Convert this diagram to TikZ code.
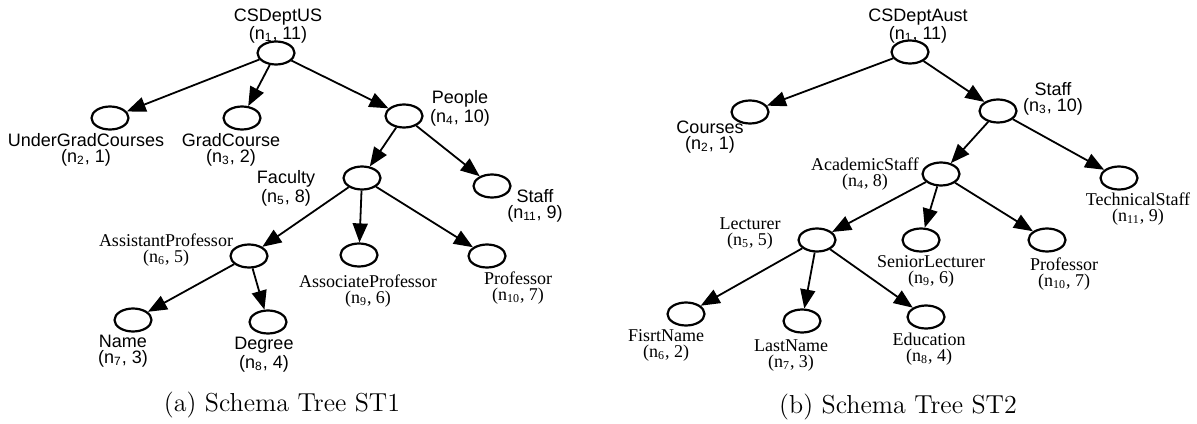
\documentclass[tikz,border=0pt]{standalone}
\usepackage{fontspec}
\newfontfamily\arialfont{Liberation Sans}
\newfontfamily\timesfont{Liberation Serif}
\usetikzlibrary{shapes.geometric,arrows.meta}

\begin{document}
\begin{tikzpicture}[x=0.5pt,y=-0.5pt,
  elem/.style={ellipse, draw, line width=1.1pt, minimum width=18.5pt, minimum height=11.5pt, inner sep=0pt},
  sanslbl/.style={font=\arialfont\fontsize{9}{8}\selectfont, align=center, inner sep=0pt},
  seriflbl/.style={font=\timesfont\fontsize{9}{8}\selectfont, align=center, inner sep=0pt},
  edge/.style={-{Triangle[length=9.5pt,width=7.5pt]}, line width=0.9pt},
  capt/.style={font=\fontsize{13}{15}\selectfont, inner sep=0pt}]
\useasboundingbox (0,0) rectangle (1197,423);

% schema tree ST1
\node[elem] (us1) at (276,53){};
\node[elem] (us2) at (110,118){};
\node[elem] (us3) at (242,118){};
\node[elem] (us4) at (404,116){};
\node[elem] (us5) at (362,178){};
\node[elem] (us11) at (492,186){};
\node[elem] (us6) at (249,256){};
\node[elem] (us9) at (359,255){};
\node[elem] (us10) at (487,256){};
\node[elem] (us7) at (133,320){};
\node[elem] (us8) at (268,322){};

\node[sanslbl] (lus1) at (278,26){CSDeptUS\\(n\textsubscript{1}, 11)};
\node[sanslbl] (lus2) at (86,150){UnderGradCourses\\(n\textsubscript{2}, 1)};
\node[sanslbl] (lus3) at (231,150){GradCourse\\(n\textsubscript{3}, 2)};
\node[sanslbl] (lus4) at (460,108){People\\(n\textsubscript{4}, 10)};
\node[sanslbl] (lus5) at (286,188){Faculty\\(n\textsubscript{5}, 8)};
\node[sanslbl] (lus11) at (535,206){Staff\\(n\textsubscript{11}, 9)};
\node[seriflbl] (lus6) at (166,250){AssistantProfessor\\(n\textsubscript{6}, 5)};
\node[seriflbl] (lus9) at (368,291){AssociateProfessor\\(n\textsubscript{9}, 6)};
\node[seriflbl] (lus10) at (518,288){Professor\\(n\textsubscript{10}, 7)};
\node[sanslbl] (lus7) at (123,351){Name\\(n\textsubscript{7}, 3)};
\node[sanslbl] (lus8) at (264,355){Degree\\(n\textsubscript{8}, 4)};

\draw[edge] (us1) -- (us2);
\draw[edge] (us1) -- (us3);
\draw[edge] (us1) -- (us4);
\draw[edge] (us4) -- (us5);
\draw[edge] (us4) -- (us11);
\draw[edge] (us5) -- (us6);
\draw[edge] (us5) -- (us9);
\draw[edge] (us5) -- (us10);
\draw[edge] (us6) -- (us7);
\draw[edge] (us6) -- (us8);

\node[capt] (cap1) at (282,405){(a) Schema Tree ST1};

% schema tree ST2
\node[elem] (au1) at (910,52){};
\node[elem] (au2) at (750,112){};
\node[elem] (au3) at (998,111){};
\node[elem] (au4) at (941,174){};
\node[elem] (au11) at (1119,178){};
\node[elem] (au5) at (817,240){};
\node[elem] (au9) at (921,240){};
\node[elem] (au10) at (1047,240){};
\node[elem] (au6) at (686,314){};
\node[elem] (au7) at (802,321){};
\node[elem] (au8) at (926,317){};

\node[sanslbl] (lau1) at (918,26){CSDeptAust\\(n\textsubscript{1}, 11)};
\node[sanslbl] (lau2) at (710,137){Courses\\(n\textsubscript{2}, 1)};
\node[sanslbl] (lau3) at (1053,99){Staff\\(n\textsubscript{3}, 10)};
\node[seriflbl] (lau4) at (865,174){AcademicStaff\\(n\textsubscript{4}, 8)};
\node[seriflbl] (lau11) at (1138,209){TechnicalStaff\\(n\textsubscript{11}, 9)};
\node[seriflbl] (lau5) at (750,234){Lecturer\\(n\textsubscript{5}, 5)};
\node[seriflbl] (lau9) at (931,271){SeniorLecturer\\(n\textsubscript{9}, 6)};
\node[seriflbl] (lau10) at (1064,274){Professor\\(n\textsubscript{10}, 7)};
\node[seriflbl] (lau6) at (666,345){FisrtName\\(n\textsubscript{6}, 2)};
\node[seriflbl] (lau7) at (791,356){LastName\\(n\textsubscript{7}, 3)};
\node[seriflbl] (lau8) at (929,349){Education\\(n\textsubscript{8}, 4)};

\draw[edge] (au1) -- (au2);
\draw[edge] (au1) -- (au3);
\draw[edge] (au3) -- (au4);
\draw[edge] (au3) -- (au11);
\draw[edge] (au4) -- (au5);
\draw[edge] (au4) -- (au9);
\draw[edge] (au4) -- (au10);
\draw[edge] (au5) -- (au6);
\draw[edge] (au5) -- (au7);
\draw[edge] (au5) -- (au8);

\node[capt] (cap2) at (898,407){(b) Schema Tree ST2};

\end{tikzpicture}
\end{document}
